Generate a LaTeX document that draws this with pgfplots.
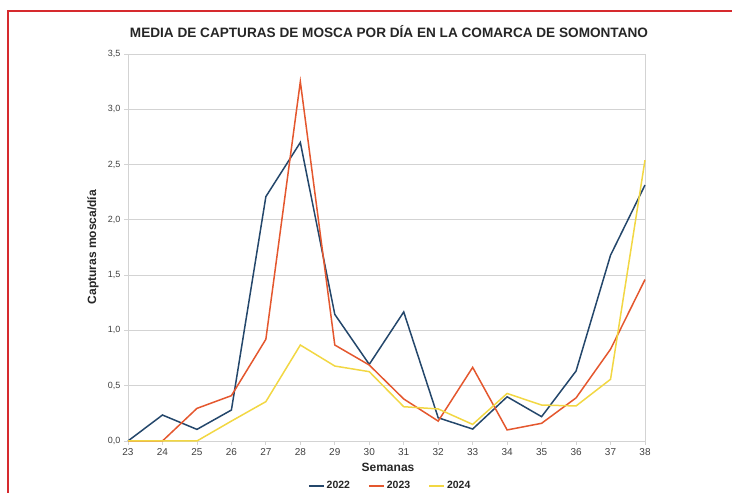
\documentclass[border=0pt]{standalone}
\usepackage{pgfplots}
\pgfplotsset{compat=1.18}
\usepackage{fontspec}
\setmainfont{Liberation Sans}
\definecolor{c22}{HTML}{24476B}
\definecolor{c23}{HTML}{E4572E}
\definecolor{c24}{HTML}{F2D743}
\definecolor{frame}{HTML}{D62A2E}
\definecolor{gridc}{HTML}{D3D3D3}
\begin{document}
\begin{tikzpicture}[x=1pt,y=1pt]
\path[use as bounding box] (0,0) rectangle (732,493);
\draw[frame, line width=2pt] (8,-2) -- (8,482) -- (734,482);
\node[font=\fontsize{13.6}{15}\selectfont\bfseries, text=black!85] at (389,461) {MEDIA DE CAPTURAS DE MOSCA POR DÍA EN LA COMARCA DE SOMONTANO};
\node[font=\fontsize{12}{14}\selectfont\bfseries, text=black!85] at (388,26) {Semanas};
\node[font=\fontsize{12}{14}\selectfont\bfseries, text=black!85, rotate=90] at (93,246) {Capturas mosca/día};
\begin{axis}[
  at={(128pt,52pt)}, anchor=south west,
  scale only axis, width=517pt, height=387pt,
  xmin=23, xmax=38, ymin=0, ymax=3.5,
  xtick={23,...,38}, ytick={0,0.5,...,3.5},
  ymajorgrids, grid style={gridc, line width=0.8pt},
  axis line style={gridc, line width=0.8pt},
  tick style={gridc, line width=0.8pt},
  tick align=outside, tick pos=left, major tick length=4pt,
  xticklabel style={font=\fontsize{10}{12}\selectfont, text=black!75},
  yticklabel style={font=\fontsize{9}{11}\selectfont, text=black!75},
  /pgf/number format/assume math mode=true,
  yticklabel style={/pgf/number format/.cd, use comma, fixed, fixed zerofill, precision=1},
  xticklabel style={/pgf/number format/.cd, fixed, precision=0},
  clip=false,
  legend style={at={(0.507,-0.116)}, anchor=center, draw=none, fill=none,
    font=\fontsize{10.5}{12}\selectfont\bfseries, text=black!85,
    legend columns=3, /tikz/every even column/.append style={column sep=16pt},
    inner sep=0pt},
  legend image code/.code={\draw[#1, line width=1.8pt] (0pt,0pt) -- (15pt,0pt);},
]
\addplot[c22, line width=1.5pt] coordinates {(23,0) (24,0.235) (25,0.105) (26,0.28) (27,2.21) (28,2.70) (29,1.145) (30,0.693) (31,1.167) (32,0.21) (33,0.108) (34,0.40) (35,0.22) (36,0.633) (37,1.68) (38,2.315)};
\addlegendentry{2022}
\addplot[c23, line width=1.5pt] coordinates {(23,0) (24,0) (25,0.295) (26,0.41) (27,0.92) (28,3.25) (29,0.868) (30,0.687) (31,0.38) (32,0.18) (33,0.666) (34,0.10) (35,0.16) (36,0.39) (37,0.83) (38,1.46)};
\addlegendentry{2023}
\addplot[c24, line width=1.5pt] coordinates {(23,0) (24,0) (25,0) (26,0.18) (27,0.356) (28,0.868) (29,0.678) (30,0.627) (31,0.31) (32,0.29) (33,0.15) (34,0.43) (35,0.325) (36,0.317) (37,0.558) (38,2.54)};
\addlegendentry{2024}
\end{axis}
\end{tikzpicture}
\end{document}
